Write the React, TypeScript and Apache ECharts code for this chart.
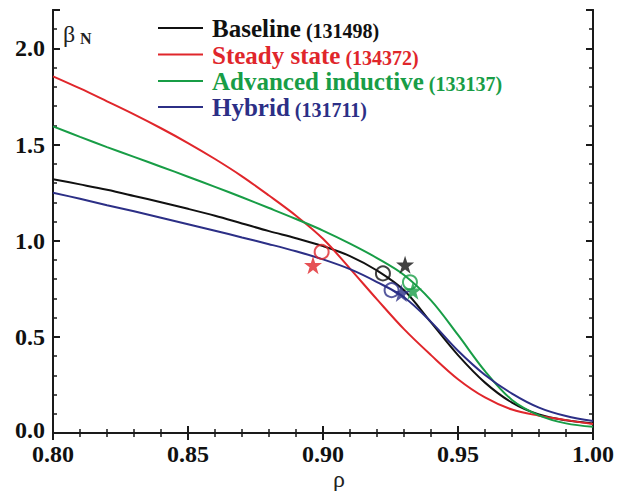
import React, { useEffect, useRef } from "react";
import * as echarts from "echarts";

const rhoGrid = [0.80, 0.81, 0.82, 0.83, 0.84, 0.85, 0.86, 0.87, 0.88, 0.89, 0.90, 0.91, 0.92, 0.93, 0.94, 0.95, 0.96, 0.97, 0.98, 0.99, 1.00];

const betaBaseline = [1.32, 1.293, 1.265, 1.233, 1.20, 1.166, 1.13, 1.09, 1.05, 1.013, 0.972, 0.92, 0.845, 0.742, 0.575, 0.405, 0.262, 0.158, 0.096, 0.066, 0.05];
const betaSteady = [1.855, 1.792, 1.725, 1.657, 1.585, 1.508, 1.425, 1.335, 1.235, 1.13, 1.01, 0.855, 0.695, 0.54, 0.405, 0.28, 0.185, 0.122, 0.09, 0.067, 0.047];
const betaAdvanced = [1.595, 1.54, 1.487, 1.436, 1.385, 1.333, 1.28, 1.226, 1.17, 1.113, 1.053, 0.985, 0.91, 0.822, 0.69, 0.51, 0.322, 0.172, 0.092, 0.05, 0.032];
const betaHybrid = [1.25, 1.218, 1.185, 1.153, 1.12, 1.086, 1.052, 1.017, 0.982, 0.945, 0.903, 0.852, 0.785, 0.706, 0.578, 0.428, 0.302, 0.205, 0.132, 0.088, 0.062];

const seriesNames = ["Baseline", "Steady state", "Advanced inductive", "Hybrid"];
const shotNumbers = ["(131498)", "(134372)", "(133137)", "(131711)"];
const seriesColors = ["#111111", "#e0262b", "#189d46", "#2c2f86"];

// open circle markers [rho, beta]
const circleMarks = [
  [0.9222, 0.83],
  [0.8995, 0.942],
  [0.9322, 0.784],
  [0.9254, 0.743],
];
// star markers [rho, beta]
const starMarks = [
  [0.9304, 0.875],
  [0.8963, 0.873],
  [0.9333, 0.74],
  [0.929, 0.728],
];

const xTicks = [0.8, 0.85, 0.9, 0.95, 1.0];
const yTicks = [0.0, 0.5, 1.0, 1.5, 2.0];

const STAR = "path://M50,0 L61.2,34.5 L97.6,34.5 L68.2,55.9 L79.4,90.5 L50,69.1 L20.6,90.5 L31.8,55.9 L2.4,34.5 L38.8,34.5 Z";
const FONT = "'Liberation Serif', 'Times New Roman', Times, serif";

export default function App() {
  const ref = useRef<HTMLDivElement>(null);

  useEffect(() => {
    if (!ref.current) return;
    const chart = echarts.init(ref.current, undefined, { renderer: "svg" });

    const axisLine = { show: true, lineStyle: { color: "#1a1a1a", width: 2 } };
    const labelStyle = {
      fontFamily: FONT,
      fontWeight: "bold" as const,
      fontSize: 24,
      color: "#111",
    };
    const isMajorY = (v: number) => yTicks.some((t) => Math.abs(t - v) < 1e-6);
    const isMajorX = (v: number) => xTicks.some((t) => Math.abs(t - v) < 1e-6);

    const xBase = {
      type: "value" as const,
      min: 0.8,
      max: 1.0,
      interval: 0.05,
      axisLine,
      splitLine: { show: false },
      axisTick: { show: true, inside: true, length: 7, lineStyle: { color: "#1a1a1a", width: 2 } },
      minorTick: { show: true, splitNumber: 5, length: 4, lineStyle: { color: "#1a1a1a", width: 1.5 } },
      minorSplitLine: { show: false },
    };
    const yMinor = {
      type: "value" as const,
      min: 0,
      max: 2.2,
      interval: 0.1,
      axisLine,
      splitLine: { show: false },
      axisTick: { show: true, inside: true, length: 4, lineStyle: { color: "#1a1a1a", width: 1.5 } },
      axisLabel: { show: false },
    };
    const yMajor = {
      type: "value" as const,
      min: 0,
      max: 2.2,
      interval: 0.5,
      axisLine,
      splitLine: { show: false },
      axisTick: { show: true, inside: true, length: 7, lineStyle: { color: "#1a1a1a", width: 2 } },
    };

    const lineSeries = [betaBaseline, betaSteady, betaAdvanced, betaHybrid].map((arr, i) => ({
      type: "line",
      name: seriesNames[i],
      data: rhoGrid.map((r, k) => [r, arr[k]]),
      smooth: 0.35,
      showSymbol: false,
      lineStyle: { color: seriesColors[i], width: 2 },
      xAxisIndex: 0,
      yAxisIndex: 0,
      z: 2,
    }));

    const circleSeries = circleMarks.map((p, i) => ({
      type: "scatter",
      name: seriesNames[i] + " circle",
      data: [p],
      symbol: "circle",
      symbolSize: 14,
      itemStyle: { color: "transparent", borderColor: seriesColors[i], borderWidth: 2 },
      xAxisIndex: 0,
      yAxisIndex: 0,
      z: 3,
    }));
    const starSeries = starMarks.map((p, i) => ({
      type: "scatter",
      name: seriesNames[i] + " star",
      data: [p],
      symbol: STAR,
      symbolSize: 18,
      itemStyle: { color: seriesColors[i] },
      xAxisIndex: 0,
      yAxisIndex: 0,
      z: 3,
    }));

    const legendRowsY = [28, 54.5, 81, 107];
    const legendGraphics: any[] = [];
    seriesNames.forEach((nm, i) => {
      const y = legendRowsY[i];
      legendGraphics.push({
        type: "line",
        shape: { x1: 158, y1: y, x2: 203, y2: y },
        style: { stroke: seriesColors[i], lineWidth: 2 },
      });
      legendGraphics.push({
        type: "text",
        x: 212,
        y: y + 1,
        style: {
          text: `{a|${nm}}{b|${shotNumbers[i]}}`,
          verticalAlign: "middle",
          align: "left",
          rich: {
            a: { fontFamily: FONT, fontWeight: "bold", fontSize: 25, fill: seriesColors[i], color: seriesColors[i], lineHeight: 24, verticalAlign: "bottom", padding: [0, 5, 0, 0] },
            b: { fontFamily: FONT, fontWeight: "bold", fontSize: 20, fill: seriesColors[i], color: seriesColors[i], lineHeight: 24, verticalAlign: "bottom" },
          },
        },
      });
    });

    chart.setOption({
      animation: false,
      backgroundColor: "#ffffff",
      grid: { left: 53, right: 33, top: 10, bottom: 58, containLabel: false },
      xAxis: [
        {
          ...xBase,
          position: "bottom",
          axisLabel: {
            ...labelStyle,
            margin: 9,
            formatter: (v: number) => (isMajorX(v) ? v.toFixed(2) : ""),
          },
        },
        { ...xBase, position: "top", axisLabel: { show: false } },
      ],
      yAxis: [
        { ...yMinor, position: "left" },
        {
          ...yMajor,
          position: "left",
          axisLabel: {
            ...labelStyle,
            margin: 8,
            formatter: (v: number) =>
              isMajorY(v) ? (Math.abs(v) < 1e-9 ? `{z|${v.toFixed(1)}}` : v.toFixed(1)) : "",
            rich: {
              z: { ...labelStyle, padding: [0, 0, 6, 0] },
            },
          },
        },
        { ...yMinor, position: "right" },
        { ...yMajor, position: "right", axisLabel: { show: false } },
      ],
      series: [...lineSeries, ...circleSeries, ...starSeries],
      graphic: [
        {
          type: "text",
          x: 63,
          y: 22,
          style: { text: "β", fontFamily: FONT, fontSize: 24, fill: "#222" },
        },
        {
          type: "text",
          x: 80,
          y: 30,
          style: { text: "N", fontFamily: FONT, fontWeight: "bold", fontSize: 16, fill: "#222" },
        },
        {
          type: "text",
          x: 339,
          y: 479,
          style: { text: "ρ", fontFamily: FONT, fontSize: 24, fill: "#222", align: "center", verticalAlign: "middle" },
        },
        ...legendGraphics,
      ],
    });

    return () => chart.dispose();
  }, []);

  return (
    <div
      ref={ref}
      style={{ position: "fixed", left: 0, top: 0, width: 626, height: 491, background: "#fff" }}
    />
  );
}
